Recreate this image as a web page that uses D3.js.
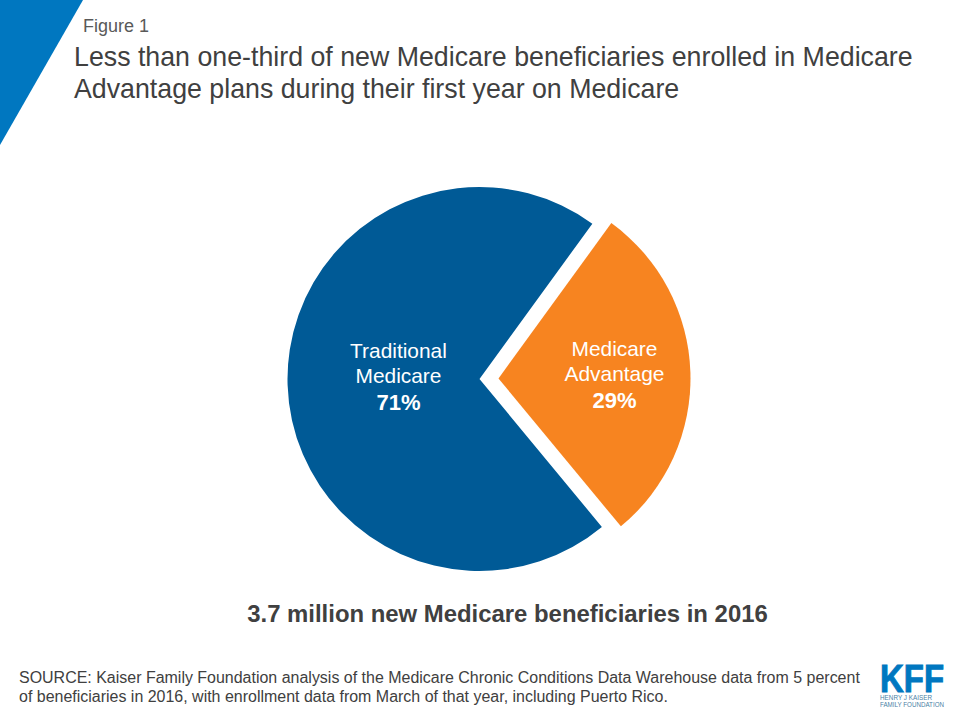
<!DOCTYPE html>
<html><head><meta charset="utf-8">
<script src="https://cdn.jsdelivr.net/npm/d3@7/dist/d3.min.js"></script>
<style>html,body{margin:0;padding:0;background:#fff}svg{display:block}text{font-family:"Liberation Sans",Arial,sans-serif}</style>
</head><body><svg id="c" width="960" height="720"></svg>
<script>
const categories = ["Medicare Advantage", "Traditional Medicare"];
const shares = [29, 71];
const shareLabels = ["29%", "71%"];
const labelLines = [["Medicare", "Advantage"], ["Traditional", "Medicare"]];
const titleLines = ["Less than one-third of new Medicare beneficiaries enrolled in Medicare", "Advantage plans during their first year on Medicare"];
const sourceLines = ["SOURCE: Kaiser Family Foundation analysis of the Medicare Chronic Conditions Data Warehouse data from 5 percent", "of beneficiaries in 2016, with enrollment data from March of that year, including Puerto Rico."];

const svg = d3.select("#c");
const color = d3.scaleOrdinal(categories, ["#f78420", "#005a96"]);
svg.append("path").attr("d", d3.line()([[0,0],[83,0],[0,145]])).attr("fill", "#0077c0");
svg.append("text").attr("x", 83).attr("y", 32).attr("font-size", 18).attr("fill", "#595959").text("Figure 1");
svg.append("g").selectAll("text").data(titleLines).join("text")
  .attr("x", 74).attr("y", (d,i)=>66+i*32).attr("font-size", 26.75).attr("fill", "#404040").text(d=>d);

const cx = 479.5, cy = 379, R = 192, explode = 19;
const start = 36 * Math.PI / 180;
const pie = d3.pie().sort(null).startAngle(start).endAngle(start + 2*Math.PI);
const arc = d3.arc().innerRadius(0).outerRadius(R);
const arcs = pie(shares);
const g = svg.append("g").attr("transform", `translate(${cx},${cy})`);
const off = d => {
  if (d.index !== 0) return [0,0];
  const m = (d.startAngle + d.endAngle)/2;
  return [explode*Math.sin(m), -explode*Math.cos(m)];
};
g.selectAll("path").data(arcs).join("path")
  .attr("d", arc).attr("fill", d=>color(categories[d.index]))
  .attr("transform", d=>`translate(${off(d)})`);

const labelPos = [[614.5, 356], [398.5, 358]];
arcs.forEach((d,i)=>{
  const t = svg.append("g").attr("text-anchor","middle").attr("fill","#fff");
  labelLines[i].forEach((l,j)=>t.append("text").attr("x",labelPos[i][0]).attr("y",labelPos[i][1]+j*25).attr("font-size",20.9).text(l));
  t.append("text").attr("x",labelPos[i][0]).attr("y",labelPos[i][1]+52).attr("font-size",22).attr("font-weight","bold").text(shareLabels[i]);
});

svg.append("text").attr("x",507.5).attr("y",622).attr("text-anchor","middle").attr("font-size",23.9).attr("font-weight","bold").attr("fill","#404040").text("3.7 million new Medicare beneficiaries in 2016");
svg.append("g").selectAll("text").data(sourceLines).join("text")
  .attr("x",19).attr("y",(d,i)=>683+i*19).attr("font-size",15.98).attr("fill","#404040").text(d=>d);

const logo = svg.append("g").attr("fill","#0077c0");
logo.append("text").attr("x",880).attr("y",692).attr("font-size",39).attr("font-weight","bold").attr("stroke","#0077c0").attr("stroke-width",1).attr("textLength",64).attr("lengthAdjust","spacingAndGlyphs").text("KFF");
logo.append("text").attr("x",880).attr("y",699.5).attr("font-size",6.6).attr("fill","#4a7fa5").attr("textLength",52).attr("lengthAdjust","spacingAndGlyphs").text("HENRY J KAISER");
logo.append("text").attr("x",880).attr("y",707).attr("font-size",6.6).attr("fill","#4a7fa5").attr("textLength",64).attr("lengthAdjust","spacingAndGlyphs").text("FAMILY FOUNDATION");
</script></body></html>
